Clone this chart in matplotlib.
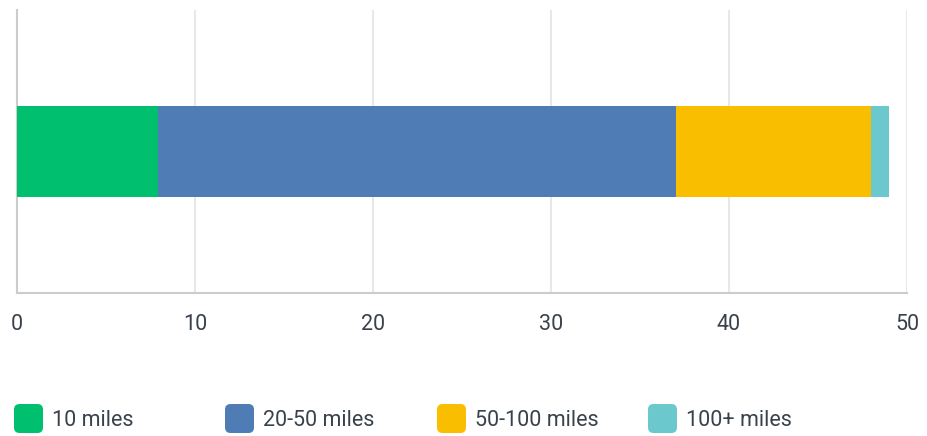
import matplotlib.pyplot as plt
from matplotlib.patches import FancyBboxPatch

# data
categories = ["10 miles", "20-50 miles", "50-100 miles", "100+ miles"]
values = [7.9, 29.1, 11.0, 1.0]
colors = ["#00bf6f", "#507cb6", "#f9be00", "#6bc8cd"]
xticks = [0, 10, 20, 30, 40, 50]

plt.rcParams["font.family"] = ["Roboto", "DejaVu Sans"]

fig = plt.figure(figsize=(9.27, 4.36), dpi=100)
ax = fig.add_axes([17 / 927, 143 / 436, 890 / 927, 283 / 436])

left = 0
for cat, v, c in zip(categories, values, colors):
    ax.barh(0, v, left=left, height=0.65, color=c, label=cat, zorder=3)
    left += v

ax.set_xlim(0, 50)
ax.set_ylim(-1, 1)
ax.set_yticks([])
ax.set_xticks(xticks)
ax.set_xticklabels([str(t) for t in xticks])
ax.tick_params(axis="x", length=0, pad=15, labelsize=15.5, labelcolor="#39424b")
ax.grid(axis="x", color="#e8e8e8", linewidth=1.5, zorder=0)
for s in ["top", "right"]:
    ax.spines[s].set_visible(False)
for s in ["left", "bottom"]:
    ax.spines[s].set_color("#cccccc")
    ax.spines[s].set_linewidth(1.5)

# legend drawn by hand in figure pixels
W, H = 927, 436
box_x = [14, 225, 437, 648]
for x0, cat, c in zip(box_x, categories, colors):
    p = FancyBboxPatch((x0 / W, (436 - 433) / H), 29 / W, 29 / H,
                       boxstyle="round,pad=0,rounding_size=0.006",
                       transform=fig.transFigure, facecolor=c,
                       edgecolor="none", mutation_aspect=W / H)
    fig.patches.append(p)
    fig.text((x0 + 38) / W, (436 - 420) / H, cat, fontsize=15.5,
             color="#39424b", va="center", ha="left")

fig.savefig("out.png", dpi=100)
